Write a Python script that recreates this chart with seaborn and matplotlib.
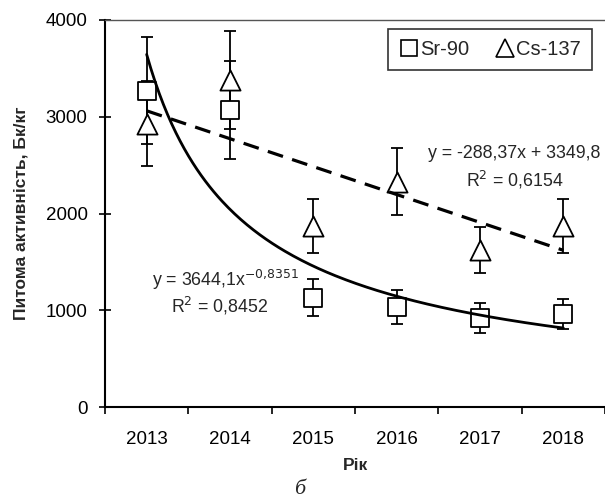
import numpy as np
import pandas as pd
import matplotlib
matplotlib.use("Agg")
import matplotlib.pyplot as plt
import seaborn as sns
from matplotlib.lines import Line2D

years = ["2013", "2014", "2015", "2016", "2017", "2018"]
sr90 = [3270, 3070, 1130, 1030, 915, 960]
sr90_err = [550, 510, 190, 175, 155, 155]
cs137 = [2930, 3380, 1870, 2330, 1625, 1870]
cs137_err = [440, 505, 280, 350, 240, 280]

# trendline coefficients as shown in the chart
lin_a, lin_b = -288.37, 3349.8
pow_a, pow_b = 3644.1, -0.8351

sns.set_theme(style="white")
plt.rcParams['font.family'] = ['Liberation Sans', 'DejaVu Sans']

fig = plt.figure(figsize=(6.05, 5.01), dpi=100)
ax = fig.add_axes([105/605, 1-407/501, 500/605, 387/501])

pos = np.arange(len(years))
df = pd.DataFrame({"pos": np.concatenate([pos, pos]),
                   "val": sr90 + cs137,
                   "iso": ["Sr-90"]*6 + ["Cs-137"]*6})

ax.errorbar(pos, sr90, yerr=sr90_err, fmt="none", ecolor="black",
            elinewidth=1.3, capsize=4, capthick=1.3, zorder=2)
ax.errorbar(pos, cs137, yerr=cs137_err, fmt="none", ecolor="black",
            elinewidth=1.3, capsize=4, capthick=1.3, zorder=2)

sns.scatterplot(data=df[df.iso == "Sr-90"], x="pos", y="val", marker="s",
                s=13**2, facecolor="white", edgecolor="black", linewidth=1.3,
                ax=ax, zorder=3, legend=False)
sns.scatterplot(data=df[df.iso == "Cs-137"], x="pos", y="val", marker="^",
                s=14.5**2, facecolor="white", edgecolor="black", linewidth=1.3,
                ax=ax, zorder=3, legend=False)

xx = np.linspace(1, 6, 200)
trend = pd.DataFrame({"pos": xx - 1, "lin": lin_a*xx + lin_b,
                      "pow": pow_a*xx**pow_b})
sns.lineplot(data=trend, x="pos", y="pow", color="black", linewidth=2.0,
             ax=ax, zorder=4)
sns.lineplot(data=trend, x="pos", y="lin", color="black", linewidth=2.3,
             linestyle=(0, (5, 3)), ax=ax, zorder=4)

ax.set_xlim(-0.5, 5.5)
ax.set_ylim(0, 4000)
ax.set_yticks([0, 1000, 2000, 3000, 4000])
ax.set_xticks(pos)
ax.set_xticklabels(years)
ax.set_xticks(np.arange(-0.5, 6.0, 1.0), minor=True)
ax.tick_params(axis="x", which="major", length=0, labelsize=13.5, pad=17.5, colors="black")
ax.tick_params(axis="x", which="minor", direction="out", length=5, width=1.2, color="black", bottom=True)
ax.tick_params(axis="y", direction="inout", length=8, width=1.2, labelsize=13.5, pad=8.5, colors="black", left=True)

for s in ["left", "bottom"]:
    ax.spines[s].set_color("black")
    ax.spines[s].set_linewidth(1.5)
ax.spines["right"].set_visible(False)
ax.spines["top"].set_color("#555555")
ax.spines["top"].set_linewidth(1.0)

ax.set_xlabel("Рік", fontsize=12.5, fontweight="bold", labelpad=7)
ax.set_ylabel("Питома активність, Бк/кг", fontsize=12.5, fontweight="bold", labelpad=12)

fs = 12.8
ax.text(3.376, 2625, "y = -288,37x + 3349,8", fontsize=fs, ha="left", va="center")
ax.text(4.42, 2346, "R$^2$ = 0,6154", fontsize=fs, ha="center", va="center")
ax.text(0.064, 1313, "y = 3644,1x$^{-0{,}8351}$", fontsize=fs, ha="left", va="center")
ax.text(0.88, 1044, "R$^2$ = 0,8452", fontsize=fs, ha="center", va="center")

handles = [Line2D([], [], marker="s", linestyle="none", markersize=12,
                  markerfacecolor="white", markeredgecolor="black", markeredgewidth=1.2),
           Line2D([], [], marker="^", linestyle="none", markersize=13,
                  markerfacecolor="white", markeredgecolor="black", markeredgewidth=1.2)]
leg = ax.legend(handles, ["Sr-90", "Cs-137"], ncol=2, loc="upper right",
                bbox_to_anchor=((592 - 105)/500, 1 - 9/387), bbox_transform=ax.transAxes,
                fontsize=14.5, frameon=True, fancybox=False, edgecolor="black",
                handletextpad=0.05, columnspacing=1.3, handlelength=1.0,
                borderpad=0.55, borderaxespad=0)
leg.get_frame().set_linewidth(1.2)
leg.set_zorder(5)

fig.text(300/605, 1-489/501, "б", fontsize=16, style="italic",
         family=["Liberation Serif", "DejaVu Serif"], ha="center", va="center")

fig.savefig("out.png", dpi=100)
